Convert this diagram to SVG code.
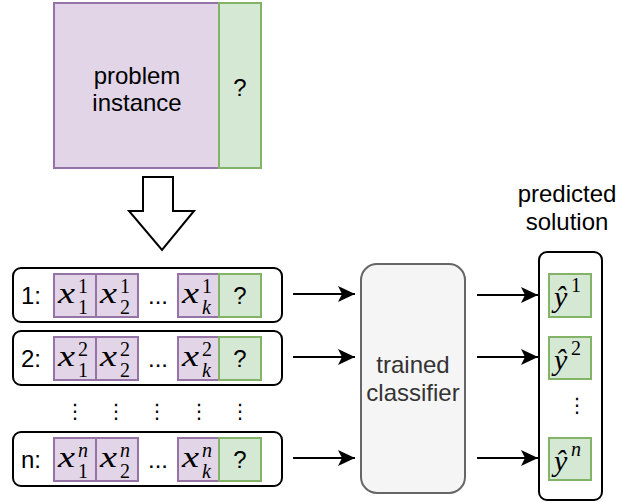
<svg xmlns="http://www.w3.org/2000/svg" width="621" height="502" viewBox="0 0 621 502">
  <defs>
    <marker id="arrow" markerUnits="userSpaceOnUse" markerWidth="18" markerHeight="16" refX="17" refY="8" orient="auto">
      <path d="M0,0 L17,8 L0,16 L4,8 Z" fill="#000"/>
    </marker>
    <style>
      .lbl { font-family: "Liberation Sans", Arial, sans-serif; fill: #000; }
      .big { font-size: 24px; }
      .mid { font-size: 24px; }
      .purple { fill: #e1d5e7; stroke: #9673a6; stroke-width: 2; }
      .green { fill: #d5e8d4; stroke: #82b366; stroke-width: 2; }
      .row { fill: #fff; stroke: #000; stroke-width: 2; }
      .math { font-family: "Liberation Serif", "DejaVu Serif", serif; font-style: italic; fill: #000; }
      .mx { font-size: 30px; }
      .ms { font-size: 20px; font-style: normal; }
      .msi { font-size: 20px; }
      .dots { font-family: "DejaVu Sans", sans-serif; font-size: 20px; fill: #000; text-anchor: middle; }
      .conn { stroke: #000; stroke-width: 2; fill: none; marker-end: url(#arrow); }
    </style>
  </defs>

  <!-- problem instance block -->
  <g id="problem-instance">
    <rect class="purple" x="54" y="3" width="165" height="165"/>
    <text class="lbl big" x="137" y="84" text-anchor="middle">problem</text>
    <text class="lbl big" x="137" y="111" text-anchor="middle">instance</text>
  </g>
  <g id="problem-unknown">
    <rect class="green" x="219" y="3" width="42" height="165"/>
    <text class="lbl mid" x="240" y="96" text-anchor="middle">?</text>
  </g>

  <!-- block arrow -->
  <g id="split-arrow">
    <polygon points="143,177 173,177 173,211 194,211 162,250 129,211 143,211" fill="#fff" stroke="#000" stroke-width="2"/>
  </g>

  <!-- sample row 1 -->
  <g id="row-1">
    <rect class="row" x="13" y="268" width="269" height="54" rx="8"/>
    <text class="lbl mid" x="21" y="304">1:</text>
    <rect class="purple" x="54" y="274" width="42" height="43"/>
    <rect class="purple" x="96" y="274" width="42" height="43"/>
    <rect class="purple" x="178" y="274" width="41" height="43"/>
    <rect class="green" x="219" y="274" width="42" height="43"/>
    <text class="math mx" x="58" y="303" textLength="17" lengthAdjust="spacingAndGlyphs">x</text>
    <text class="math ms" x="78" y="293">1</text>
    <text class="math ms" x="78" y="314">1</text>
    <text class="math mx" x="100" y="303" textLength="17" lengthAdjust="spacingAndGlyphs">x</text>
    <text class="math ms" x="120" y="293">1</text>
    <text class="math ms" x="120" y="314">2</text>
    <text class="lbl mid" x="158" y="304" text-anchor="middle">...</text>
    <text class="math mx" x="182" y="303" textLength="17" lengthAdjust="spacingAndGlyphs">x</text>
    <text class="math ms" x="202" y="293">1</text>
    <text class="math msi" x="202" y="314">k</text>
    <text class="lbl mid" x="240" y="304" text-anchor="middle">?</text>
  </g>

  <!-- sample row 2 -->
  <g id="row-2">
    <rect class="row" x="13" y="331" width="269" height="54" rx="8"/>
    <text class="lbl mid" x="21" y="367">2:</text>
    <rect class="purple" x="54" y="337" width="42" height="43"/>
    <rect class="purple" x="96" y="337" width="42" height="43"/>
    <rect class="purple" x="178" y="337" width="41" height="43"/>
    <rect class="green" x="219" y="337" width="42" height="43"/>
    <text class="math mx" x="58" y="366" textLength="17" lengthAdjust="spacingAndGlyphs">x</text>
    <text class="math ms" x="78" y="356">2</text>
    <text class="math ms" x="78" y="377">1</text>
    <text class="math mx" x="100" y="366" textLength="17" lengthAdjust="spacingAndGlyphs">x</text>
    <text class="math ms" x="120" y="356">2</text>
    <text class="math ms" x="120" y="377">2</text>
    <text class="lbl mid" x="158" y="367" text-anchor="middle">...</text>
    <text class="math mx" x="182" y="366" textLength="17" lengthAdjust="spacingAndGlyphs">x</text>
    <text class="math ms" x="202" y="356">2</text>
    <text class="math msi" x="202" y="377">k</text>
    <text class="lbl mid" x="240" y="367" text-anchor="middle">?</text>
  </g>

  <!-- vertical ellipsis between rows -->
  <g id="row-gap">
    <text class="dots" x="75" y="418">⋮</text>
    <text class="dots" x="116" y="418">⋮</text>
    <text class="dots" x="157" y="418">⋮</text>
    <text class="dots" x="199" y="418">⋮</text>
    <text class="dots" x="240" y="418">⋮</text>
  </g>

  <!-- sample row n -->
  <g id="row-n">
    <rect class="row" x="13" y="432" width="269" height="54" rx="8"/>
    <text class="lbl mid" x="21" y="468">n:</text>
    <rect class="purple" x="54" y="438" width="42" height="43"/>
    <rect class="purple" x="96" y="438" width="42" height="43"/>
    <rect class="purple" x="178" y="438" width="41" height="43"/>
    <rect class="green" x="219" y="438" width="42" height="43"/>
    <text class="math mx" x="58" y="467" textLength="17" lengthAdjust="spacingAndGlyphs">x</text>
    <text class="math msi" x="78" y="457">n</text>
    <text class="math ms" x="78" y="478">1</text>
    <text class="math mx" x="100" y="467" textLength="17" lengthAdjust="spacingAndGlyphs">x</text>
    <text class="math msi" x="120" y="457">n</text>
    <text class="math ms" x="120" y="478">2</text>
    <text class="lbl mid" x="158" y="468" text-anchor="middle">...</text>
    <text class="math mx" x="182" y="467" textLength="17" lengthAdjust="spacingAndGlyphs">x</text>
    <text class="math msi" x="202" y="457">n</text>
    <text class="math msi" x="202" y="478">k</text>
    <text class="lbl mid" x="240" y="468" text-anchor="middle">?</text>
  </g>

  <!-- classifier -->
  <g id="classifier">
    <rect x="361" y="264" width="104" height="229" rx="16" fill="#f5f5f5" stroke="#666666" stroke-width="2"/>
    <text class="lbl big" x="413" y="373" text-anchor="middle" style="fill:#333333">trained</text>
    <text class="lbl big" x="413" y="401" text-anchor="middle" style="fill:#333333">classifier</text>
  </g>

  <!-- predicted solution -->
  <g id="solution-title">
    <text class="lbl big" x="567" y="202" text-anchor="middle">predicted</text>
    <text class="lbl big" x="567" y="230" text-anchor="middle">solution</text>
  </g>
  <g id="solution">
    <rect class="row" x="539" y="252" width="63" height="248" rx="8"/>
    <rect class="green" x="549" y="274" width="42" height="43"/>
    <text class="math mx" x="554" y="307">ŷ</text>
    <text class="math ms" x="571" y="292">1</text>
    <rect class="green" x="549" y="337" width="42" height="42"/>
    <text class="math mx" x="554" y="370">ŷ</text>
    <text class="math ms" x="571" y="355">2</text>
    <text class="dots" x="577" y="412">⋮</text>
    <rect class="green" x="549" y="438" width="42" height="42"/>
    <text class="math mx" x="554" y="471">ŷ</text>
    <text class="math msi" x="571" y="456">n</text>
  </g>

  <!-- connectors -->
  <g id="connectors">
    <line class="conn" x1="293" y1="294" x2="355" y2="294"/>
    <line class="conn" x1="293" y1="357" x2="355" y2="357"/>
    <line class="conn" x1="293" y1="458" x2="355" y2="458"/>
    <line class="conn" x1="477" y1="295" x2="538" y2="295"/>
    <line class="conn" x1="477" y1="357" x2="538" y2="357"/>
    <line class="conn" x1="477" y1="458" x2="538" y2="458"/>
  </g>
</svg>
